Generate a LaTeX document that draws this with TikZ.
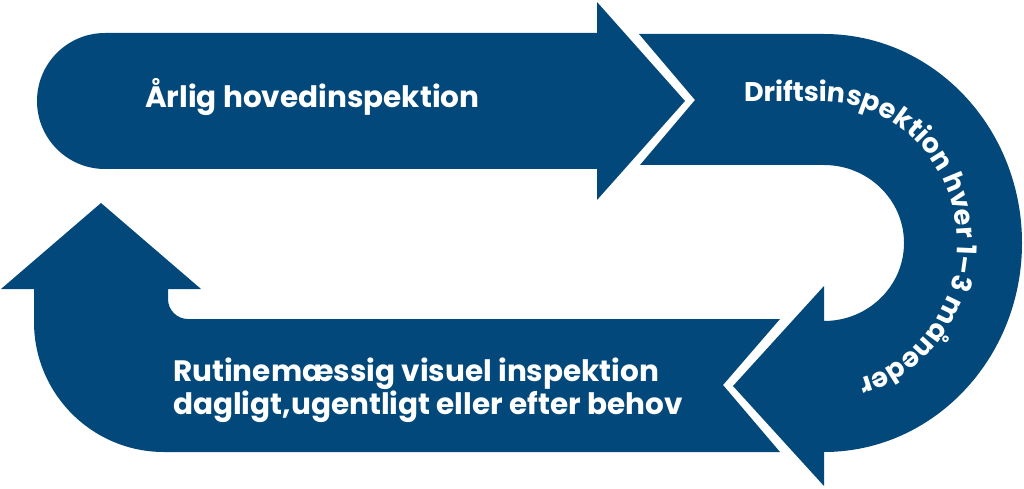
\documentclass[tikz,border=0pt]{standalone}
\usepackage{fontspec}
\setmainfont{Poppins}
\usetikzlibrary{decorations.text}
\definecolor{navy}{HTML}{03487A}
\newcommand\lblfont{\bfseries\fontsize{29.5}{33}\selectfont}
\newcommand\arcfont{\bfseries\fontsize{27}{33}\selectfont}
\begin{document}
\begin{tikzpicture}[x=1pt,y=1pt,
  band/.style={fill=navy},
  lbl/.style={text=white, font=\lblfont, inner sep=0pt, anchor=base west}]
\useasboundingbox (0,0) rectangle (1024,488);
% top arrow
\fill[band] (105,455) -- (597,455) -- (597,486) -- (685,387) -- (597,288)
  -- (597,319) -- (105,319) arc[start angle=270, end angle=90, radius=68] -- cycle;
% U arrow
\fill[band] (639,454) -- (824,454)
  arc[start angle=90, end angle=-90, x radius=198, y radius=209]
  -- (824,2) -- (733,102) -- (824,202) -- (824,167)
  arc[start angle=-90, end angle=90, x radius=80, y radius=78]
  -- (640,323) -- (695,388) -- cycle;
% bottom arrow
\fill[band] (780,169) -- (723,103) -- (780,36) -- (164,36)
  arc[start angle=-90, end angle=-180, radius=130]
  -- (34,199) -- (1,199) -- (101,285) -- (201,199) -- (168,199) -- (168,189)
  arc[start angle=180, end angle=270, radius=20] -- cycle;
% labels
\node[lbl] (top) at (145,380) {Årlig hovedinspektion};
\node[lbl] (rut1) at (173,107) {Rutinemæssig visuel inspektion};
\node[lbl] (rut2) at (173,74) {dagligt,ugentligt eller efter behov};
\path[decorate, decoration={text along path, text color=white,
  text={|\arcfont|Driftsinspektion hver 1–3 måneder}}]
  (744,386) -- (824,386) arc[start angle=90, end angle=-90, x radius=133, y radius=141];
\end{tikzpicture}
\end{document}
